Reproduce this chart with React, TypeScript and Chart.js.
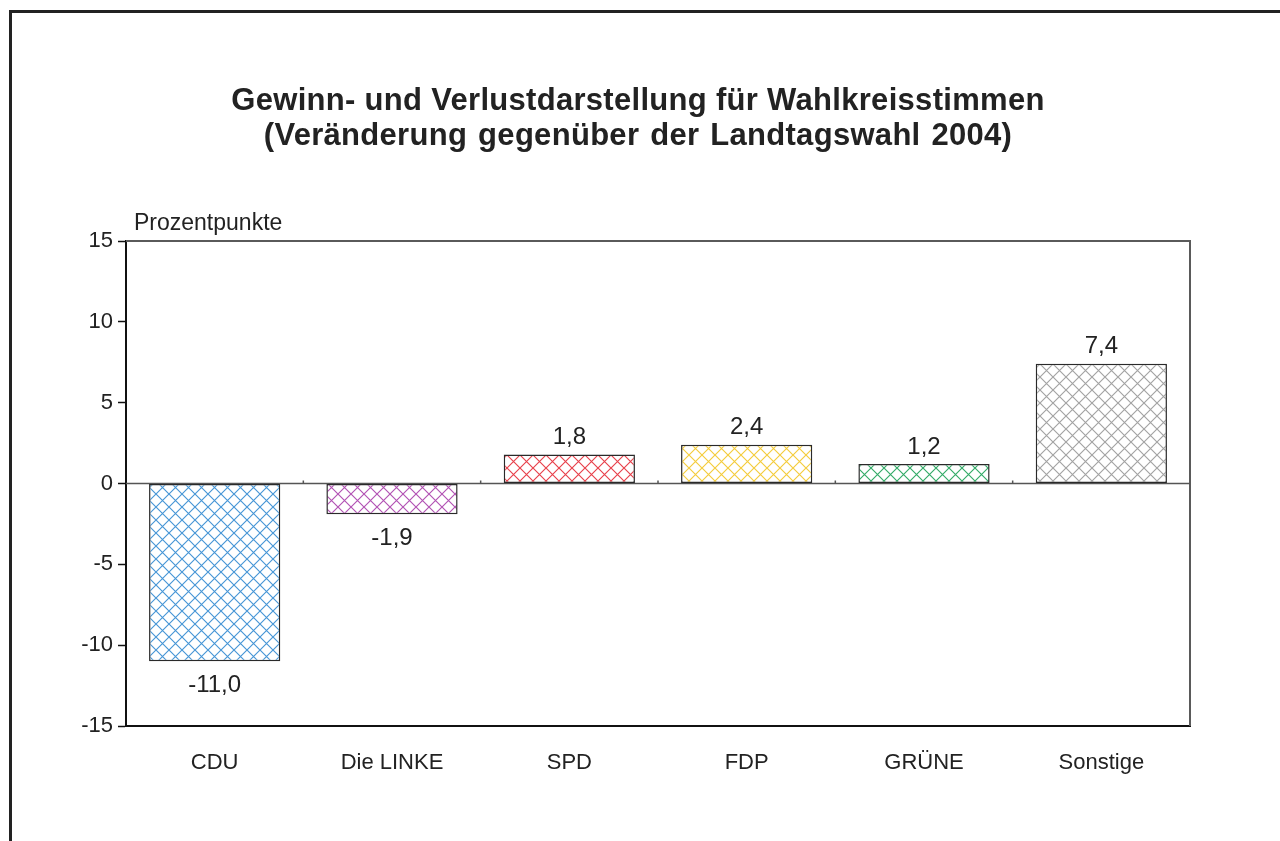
import React, { useEffect, useRef } from "react";
import { Chart, registerables } from "chart.js";

Chart.register(...registerables);

const categories = ["CDU", "Die LINKE", "SPD", "FDP", "GRÜNE", "Sonstige"];
const values = [-11.0, -1.9, 1.8, 2.4, 1.2, 7.4];
const hatchColors = ["#4796d6", "#b253b4", "#e8414b", "#f4cc3c", "#34ab68", "#a3a3a3"];
const titleLines = [
  "Gewinn- und Verlustdarstellung für Wahlkreisstimmen",
  "(Veränderung gegenüber der Landtagswahl 2004)",
];
const yAxisLabel = "Prozentpunkte";
const yTicks = [-15, -10, -5, 0, 5, 10, 15];

const FONT = "'Liberation Sans', Arial, Helvetica, sans-serif";

function makePattern(color: string): CanvasPattern | string {
  const s = 13;
  const c = document.createElement("canvas");
  c.width = s;
  c.height = s;
  const g = c.getContext("2d");
  if (!g) return color;
  g.fillStyle = "#ffffff";
  g.fillRect(0, 0, s, s);
  g.strokeStyle = color;
  g.lineWidth = 1.15;
  g.beginPath();
  g.moveTo(-1, -1);
  g.lineTo(s + 1, s + 1);
  g.moveTo(s + 1, -1);
  g.lineTo(-1, s + 1);
  g.stroke();
  const p = g.createPattern(c, "repeat");
  return p || color;
}

const decorPlugin = {
  id: "decor",
  beforeDatasetsDraw(chart: any) {
    const { ctx, chartArea, scales } = chart;
    const y0 = scales.y.getPixelForValue(0);
    ctx.save();
    // title
    ctx.fillStyle = "#222";
    ctx.font = `bold 31px ${FONT}`;
    ctx.textAlign = "center";
    ctx.textBaseline = "middle";
    (ctx as any).letterSpacing = "0.3px";
    (ctx as any).wordSpacing = "0px";
    ctx.fillText(titleLines[0], 638, 101);
    (ctx as any).wordSpacing = "2px";
    ctx.fillText(titleLines[1], 638, 136);
    (ctx as any).letterSpacing = "0px";
    (ctx as any).wordSpacing = "0px";
    // top and right frame lines
    ctx.strokeStyle = "#5a5a5a";
    ctx.lineWidth = 2;
    ctx.beginPath();
    ctx.moveTo(chartArea.left, chartArea.top);
    ctx.lineTo(chartArea.right, chartArea.top);
    ctx.lineTo(chartArea.right, chartArea.bottom);
    ctx.stroke();
    // zero line
    ctx.strokeStyle = "#555";
    ctx.lineWidth = 1.5;
    ctx.beginPath();
    ctx.moveTo(chartArea.left, y0);
    ctx.lineTo(chartArea.right, y0);
    ctx.stroke();
    // category boundary ticks on zero line
    ctx.beginPath();
    for (let i = 0; i < categories.length - 1; i++) {
      const xb = (scales.x.getPixelForValue(i) + scales.x.getPixelForValue(i + 1)) / 2;
      ctx.moveTo(xb, y0);
      ctx.lineTo(xb, y0 - 3);
    }
    ctx.stroke();
    // y-axis unit label
    ctx.fillStyle = "#222";
    ctx.font = `23px ${FONT}`;
    ctx.textAlign = "left";
    ctx.textBaseline = "middle";
    ctx.fillText(yAxisLabel, chartArea.left + 8, chartArea.top - 17);
    ctx.restore();
  },
  afterDatasetsDraw(chart: any) {
    const { ctx } = chart;
    const meta = chart.getDatasetMeta(0);
    ctx.save();
    ctx.fillStyle = "#222";
    ctx.font = `24px ${FONT}`;
    ctx.textAlign = "center";
    ctx.textBaseline = "middle";
    meta.data.forEach((bar: any, i: number) => {
      const v = values[i];
      const txt = v.toFixed(1).replace(".", ",");
      const yy = v >= 0 ? bar.y - 17 : bar.y + 24;
      ctx.fillText(txt, bar.x, yy);
    });
    ctx.restore();
  },
};

export default function App() {
  const ref = useRef<HTMLCanvasElement | null>(null);

  useEffect(() => {
    if (!ref.current) return;
    const patterns = hatchColors.map((c) => makePattern(c));
    const chart = new Chart(ref.current, {
      type: "bar",
      data: {
        labels: categories,
        datasets: [
          {
            data: values,
            backgroundColor: patterns as any,
            borderColor: "#2a2a2a",
            borderWidth: 1.5,
            borderSkipped: false,
            categoryPercentage: 1,
            barPercentage: 0.74,
          },
        ],
      },
      options: {
        animation: false,
        responsive: false,
        maintainAspectRatio: false,
        devicePixelRatio: 1,
        layout: { padding: { left: 10, right: 90, top: 241, bottom: 55 } },
        plugins: {
          legend: { display: false },
          tooltip: { enabled: false },
          title: { display: false },
        },
        scales: {
          x: {
            grid: { display: false, drawTicks: false },
            border: { display: true, color: "#111", width: 2 },
            ticks: { color: "#222", font: { family: FONT, size: 22 }, padding: 24 },
            afterFit: (scale: any) => {
              scale.height = 60;
            },
          },
          y: {
            min: -15,
            max: 15,
            afterBuildTicks: (scale: any) => {
              scale.ticks = yTicks.map((v) => ({ value: v }));
            },
            grid: {
              drawOnChartArea: false,
              drawTicks: true,
              tickLength: 8,
              tickColor: "#111",
              tickWidth: 1.5,
            },
            border: { display: true, color: "#111", width: 2 },
            ticks: {
              color: "#222",
              font: { family: FONT, size: 22 },
              padding: 5,
              callback: (v: any) => String(v),
            },
            afterFit: (scale: any) => {
              scale.width = 116;
            },
          },
        },
      },
      plugins: [decorPlugin],
    });
    return () => chart.destroy();
  }, []);

  return (
    <div
      style={{
        position: "absolute",
        left: 0,
        top: 0,
        width: 1280,
        height: 841,
        overflow: "hidden",
        background: "#fff",
      }}
    >
      <div
        style={{
          position: "absolute",
          left: 9,
          top: 10,
          width: 1400,
          height: 1000,
          border: "3px solid #222",
        }}
      />
      <canvas
        ref={ref}
        width={1280}
        height={841}
        style={{ position: "absolute", left: 0, top: 0, width: 1280, height: 841 }}
      />
    </div>
  );
}
